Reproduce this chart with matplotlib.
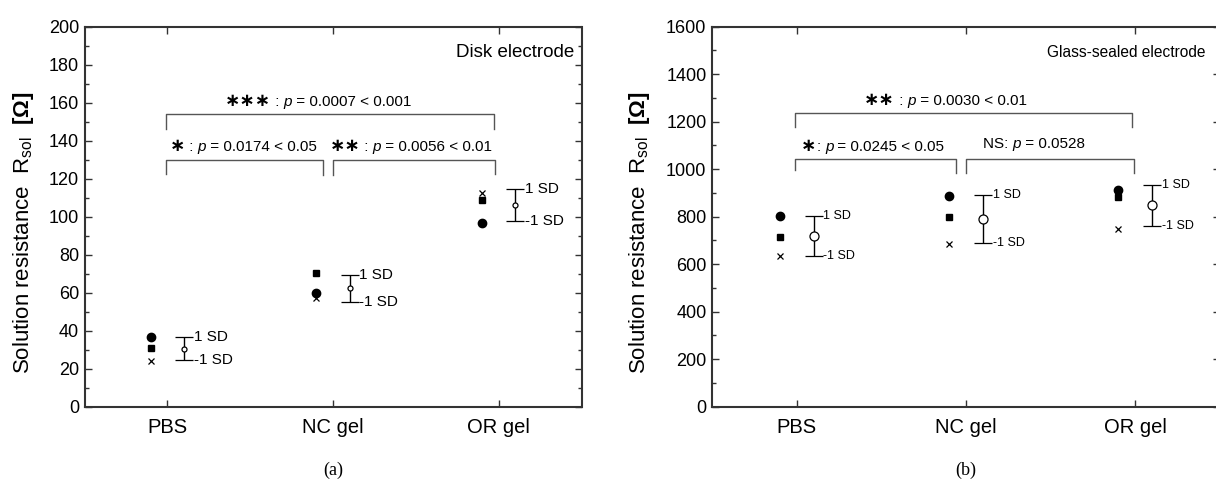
import numpy as np
import matplotlib
matplotlib.use('Agg')
import matplotlib.pyplot as plt
from matplotlib.ticker import MultipleLocator
from matplotlib.offsetbox import TextArea, HPacker, AnnotationBbox

plt.rcParams['font.family'] = ['Liberation Sans', 'DejaVu Sans']
plt.rcParams['mathtext.fontset'] = 'custom'
plt.rcParams['mathtext.rm'] = 'Liberation Sans'
plt.rcParams['mathtext.it'] = 'Liberation Sans:italic'
plt.rcParams['mathtext.bf'] = 'Liberation Sans:bold'

categories = ['PBS', 'NC gel', 'OR gel']

# (a) disk electrode, three measurements per medium
disk_circle = [36.5, 59.9, 96.8]
disk_square = [30.8, 70.5, 108.7]
disk_cross = [24.2, 57.0, 112.7]

# (b) glass-sealed electrode
glass_circle = [805, 887, 913]
glass_square = [713, 797, 882]
glass_cross = [636, 684, 749]

disk_tests = [('∗∗∗', ' : ', '0.0007 < 0.001'),
              ('∗', ' : ', '0.0174 < 0.05'),
              ('∗∗', ' : ', '0.0056 < 0.01')]
glass_tests = [('∗∗', ' : ', '0.0030 < 0.01'),
               ('∗', ': ', '0.0245 < 0.05'),
               ('', 'NS: ', '0.0528')]

GREY = '#333333'


def sig_label(ax, x, y, test, fs=11):
    stars, pre, pval = test
    parts = []
    if stars:
        parts.append(TextArea(stars, textprops=dict(family='DejaVu Sans', fontsize=fs * 1.2,
                                                    fontweight='bold')))
    parts.append(TextArea(pre, textprops=dict(fontsize=fs)))
    parts.append(TextArea('p', textprops=dict(fontsize=fs, style='italic')))
    parts.append(TextArea(' = ' + pval, textprops=dict(fontsize=fs)))
    box = HPacker(children=parts, align='baseline', pad=0, sep=0)
    ab = AnnotationBbox(box, (x, y), xycoords='data', frameon=False,
                        box_alignment=(0.5, 0.5), annotation_clip=False)
    ax.add_artist(ab)


def bracket(ax, x0, x1, y, y0, y1):
    ax.plot([x0, x0, x1, x1], [y0, y, y, y1], color='#555555', lw=1.0)


def panel(ax, circ, sq, cross, ymax, major, minor, ms_mean, sd_fs):
    x = np.arange(1, len(categories) + 1)
    vals = np.array([circ, sq, cross])
    mean = vals.mean(axis=0)
    sd = vals.std(axis=0, ddof=1)

    ax.plot(x - 0.1, circ, 'o', color='black', ms=6)
    ax.plot(x - 0.1, sq, 's', color='black', ms=4.6)
    ax.plot(x - 0.1, cross, 'x', color='black', ms=5, mew=0.9)
    ax.errorbar(x + 0.1, mean, yerr=sd, fmt='o', mfc='white', mec='black',
                mew=0.9, ms=ms_mean, ecolor='black', elinewidth=1,
                capsize=6.5, capthick=1, zorder=3)
    for xi, m, s in zip(x + 0.1, mean, sd):
        ax.annotate('1 SD', (xi, m + s), xytext=(7, 0), textcoords='offset points',
                    ha='left', va='center', fontsize=sd_fs)
        ax.annotate('-1 SD', (xi, m - s), xytext=(7, 0), textcoords='offset points',
                    ha='left', va='center', fontsize=sd_fs)

    ax.set_xlim(0.5, 3.5)
    ax.set_ylim(0, ymax)
    ax.set_xticks(x)
    ax.set_xticklabels(categories, fontsize=14.5)
    ax.yaxis.set_major_locator(MultipleLocator(major))
    ax.yaxis.set_minor_locator(MultipleLocator(minor))
    ax.tick_params(axis='both', which='both', direction='in', top=True, right=True,
                   color=GREY, width=1)
    ax.tick_params(axis='both', which='major', length=5)
    ax.tick_params(axis='y', which='minor', length=3)
    ax.tick_params(axis='y', labelsize=13, pad=4)
    ax.tick_params(axis='x', pad=8)
    for sp in ax.spines.values():
        sp.set_color(GREY)
        sp.set_linewidth(1.5)
    ax.set_ylabel(r'Solution resistance  R$_{\rm sol}$  $\mathbf{[Ω]}$', fontsize=16)


fig = plt.figure(figsize=(12.16, 4.88), dpi=100)
ax1 = fig.add_axes([84.5 / 1216, 1 - 406.7 / 488, 497 / 1216, 380 / 488])
ax2 = fig.add_axes([712 / 1216, 1 - 406.7 / 488, 508 / 1216, 380 / 488])

panel(ax1, disk_circle, disk_square, disk_cross, 200, 20, 10, 3.6, 11)
panel(ax2, glass_circle, glass_square, glass_cross, 1600, 200, 100, 6.5, 9)

ax1.yaxis.set_label_coords(-0.098, 0.457)
ax2.yaxis.set_label_coords(-0.118, 0.457)

bracket(ax1, 0.99, 2.97, 154, 146, 146)
bracket(ax1, 0.99, 1.94, 130, 122.5, 122)
bracket(ax1, 2.00, 2.98, 130, 122, 122.5)
sig_label(ax1, 1.91, 161, disk_tests[0])
sig_label(ax1, 1.46, 137, disk_tests[1])
sig_label(ax1, 2.47, 137, disk_tests[2])

bracket(ax2, 0.99, 2.98, 1237, 1176, 1176)
bracket(ax2, 0.99, 1.94, 1043, 997, 983)
bracket(ax2, 2.00, 2.99, 1043, 983, 983)
sig_label(ax2, 1.88, 1293, glass_tests[0])
sig_label(ax2, 1.45, 1099, glass_tests[1])
sig_label(ax2, 2.40, 1106, glass_tests[2])

ax1.text(0.985, 0.933, 'Disk electrode', transform=ax1.transAxes,
         ha='right', va='center', fontsize=13.5)
ax2.text(0.972, 0.933, 'Glass-sealed electrode', transform=ax2.transAxes,
         ha='right', va='center', fontsize=11.2)

for ax, lab in [(ax1, '(a)'), (ax2, '(b)')]:
    ax.text(0.5, -0.167, lab, transform=ax.transAxes, ha='center', va='center',
            family='Liberation Serif', fontsize=13)

fig.savefig('out.png', dpi=100)
